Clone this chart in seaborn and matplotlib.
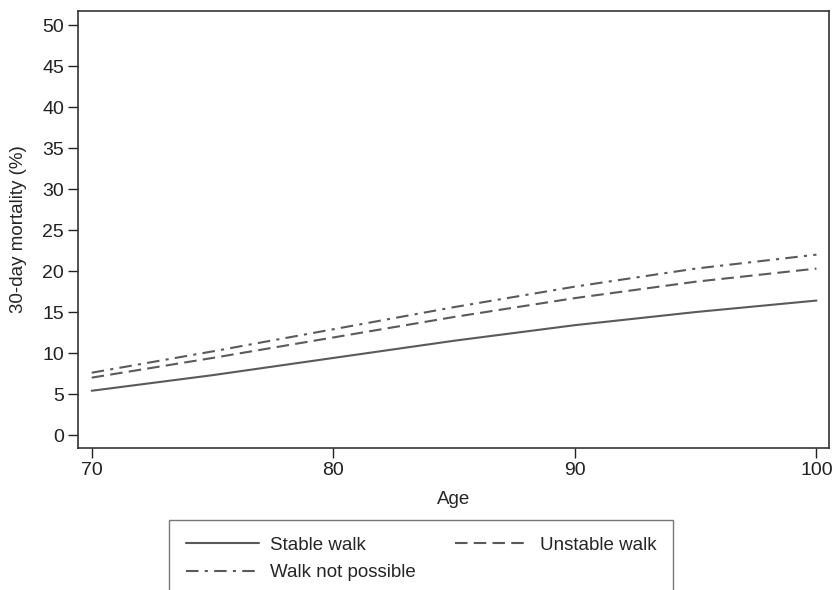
import numpy as np
import pandas as pd
import seaborn as sns
import matplotlib.pyplot as plt

# data
age = [70, 75, 80, 85, 90, 95, 100]
stable = [5.4, 7.3, 9.4, 11.5, 13.4, 15.0, 16.4]
unstable = [7.0, 9.4, 11.9, 14.4, 16.7, 18.7, 20.3]
not_possible = [7.6, 10.2, 12.9, 15.6, 18.1, 20.3, 22.0]
groups = ["Stable walk", "Unstable walk", "Walk not possible"]

df = pd.DataFrame({
    "Age": age * 3,
    "mort": stable + unstable + not_possible,
    "group": [g for g in groups for _ in age],
})

sns.set_style("ticks")
plt.rcParams['font.family'] = ['Liberation Sans', 'DejaVu Sans']

fig = plt.figure(figsize=(8.38, 5.9), dpi=100)
ax = fig.add_axes([0.093, 0.2407, 0.896, 0.741])

line_col = "#5a5a5a"
sns.lineplot(data=df, x="Age", y="mort", hue="group", style="group",
             palette={g: line_col for g in groups},
             dashes={"Stable walk": "", "Unstable walk": (6, 3),
                     "Walk not possible": (6, 3, 1.5, 3)},
             linewidth=1.5, ax=ax, legend=True)

ax.set_xlim(69.43, 100.51)
ax.set_ylim(-1.58, 51.74)
ax.set_xticks([70, 80, 90, 100])
ax.set_yticks(np.arange(0, 51, 5))
ax.tick_params(labelsize=14, colors="#222222", length=7, width=1, pad=3)
for s in ax.spines.values():
    s.set_visible(True)
    s.set_color("#333333")
    s.set_linewidth(1.2)
ax.set_xlabel("Age", fontsize=13.5, labelpad=9)
ax.set_ylabel("30-day mortality (%)", fontsize=13.5, labelpad=11)

handles, labels = ax.get_legend_handles_labels()
ax.get_legend().remove()
order = [0, 2, 1]
leg = fig.legend([handles[i] for i in order], [labels[i] for i in order],
                 ncol=2, loc="upper left",
                 bbox_to_anchor=(169 / 838, 1 - 520 / 590),
                 fontsize=13.5, frameon=True, fancybox=False,
                 edgecolor="#555555", handlelength=3.9, handletextpad=0.6,
                 columnspacing=2.1, borderpad=0.9, labelspacing=0.55,
                 borderaxespad=0)
leg.get_frame().set_linewidth(1.0)

fig.savefig("out.png", dpi=100)
